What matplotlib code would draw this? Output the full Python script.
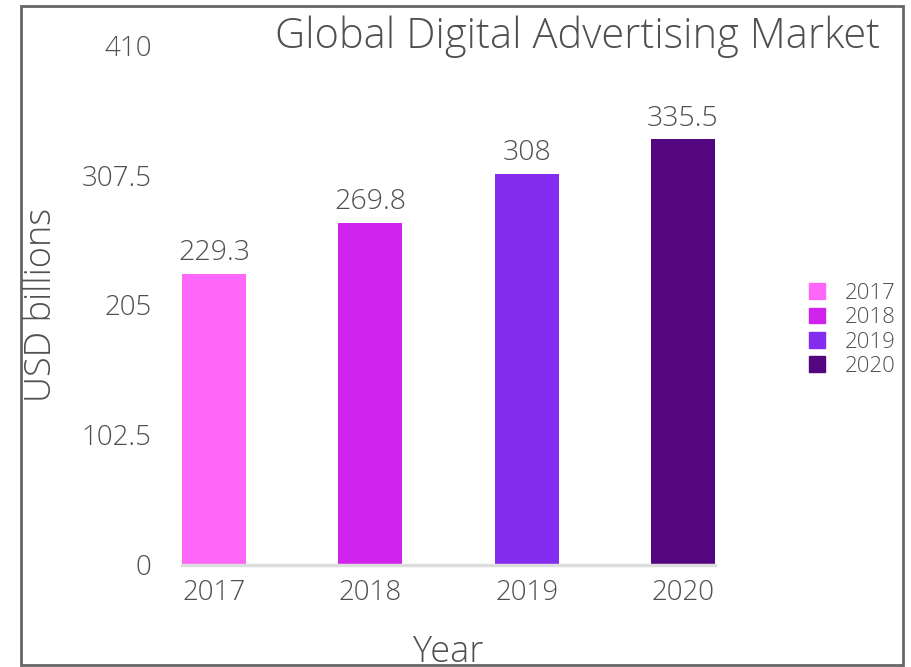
"""Global digital advertising market (USD billions), 2017-2020, as a bar chart."""

import matplotlib
matplotlib.use("Agg")
import matplotlib.pyplot as plt  # noqa: E402
from matplotlib.patches import Patch, Rectangle  # noqa: E402

years = ["2017", "2018", "2019", "2020"]
spend = [229.3, 269.8, 308, 335.5]
value_labels = ["229.3", "269.8", "308", "335.5"]
colors = ["#ff66fa", "#d023eb", "#842cf0", "#540680"]
yticks = [0, 102.5, 205, 307.5, 410]
ytick_labels = ["0", "102.5", "205", "307.5", "410"]

TEXT = "#505050"
plt.rcParams["font.family"] = ["Open Sans", "DejaVu Sans"]
plt.rcParams["font.weight"] = 300

fig = plt.figure(figsize=(9.11, 6.67), dpi=100)
ax = fig.add_axes([182 / 911, 0.153, 533 / 911, 0.7795])

x = range(len(years))
width = 0.41
bars = ax.bar(x, spend, width=width, color=colors)
ax.set_xlim(-width / 2, len(years) - 1 + width / 2)
ax.set_ylim(0, 410)

for b, lab in zip(bars, value_labels):
    ax.annotate(lab, (b.get_x() + b.get_width() / 2, b.get_height()),
                xytext=(0, 5), textcoords="offset points", ha="center", va="bottom",
                fontsize=20.5, color=TEXT)

ax.set_xticks(list(x), years)
ax.set_yticks(yticks, ytick_labels)
ax.tick_params(axis="x", length=0, pad=10, labelsize=20, labelcolor=TEXT)
ax.tick_params(axis="y", length=0, pad=22, labelsize=20, labelcolor=TEXT)
for s in ("top", "right", "left"):
    ax.spines[s].set_visible(False)
ax.spines["bottom"].set_color("#dddddd")
ax.spines["bottom"].set_linewidth(2.5)

fig.text(880 / 911, 1 - 37 / 667, "Global Digital Advertising Market", ha="right", va="center",
         fontsize=30, color=TEXT)
fig.text(42 / 911, 1 - 305 / 667, "USD billions", rotation=90, ha="center", va="center",
         fontsize=26, color=TEXT)
fig.text(448 / 911, 1 - 652 / 667, "Year", ha="center", va="center", fontsize=26, color=TEXT)

handles = [Patch(color=c, label=y) for c, y in zip(colors, years)]
fig.legend(handles=handles, loc="center left", bbox_to_anchor=(789 / 911, 1 - 330 / 667),
           frameon=False, fontsize=16, handlelength=0.7, handleheight=0.7,
           handletextpad=0.9, labelspacing=0.15, labelcolor=TEXT)

# outer frame around the whole chart
fig.patches.append(Rectangle((21 / 911, 2 / 667), 882 / 911, 659 / 667, transform=fig.transFigure,
                             fill=False, edgecolor="#666666", linewidth=2.0))

fig.savefig("out.png", dpi=100)
